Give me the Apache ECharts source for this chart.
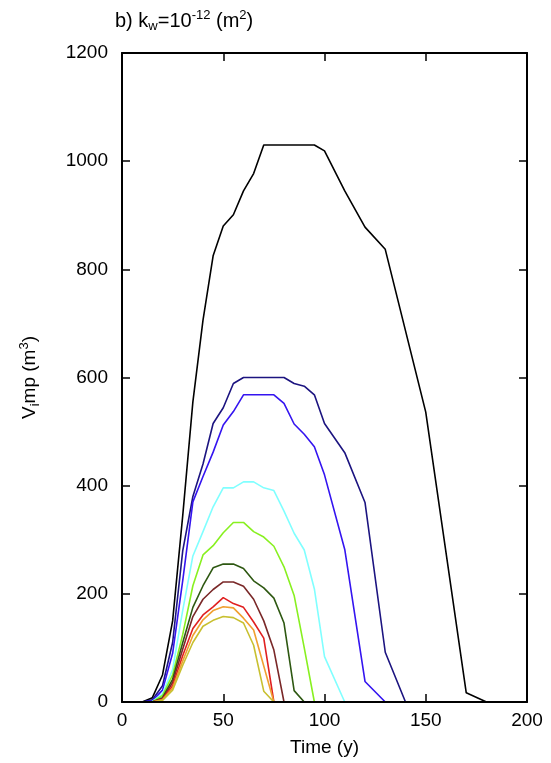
<!DOCTYPE html>
<html>
<head>
<meta charset="utf-8" />
<title>Vimp chart</title>
<script src="https://cdn.jsdelivr.net/npm/echarts@6/dist/echarts.min.js"></script>
<style>
  html, body { margin: 0; padding: 0; background: #fff; }
  #main { width: 551px; height: 763px; }
</style>
</head>
<body>
<div id="main"></div>
<script type="text/javascript">
// time (y) / volume (m3) pairs
var vBlack  = [[0,0],[10,0],[15,8],[20,50],[25,150],[30,345],[35,555],[40,706],[45,825],[50,880],[55,901],[60,945],[65,977],[70,1030],[95,1030],[100,1019],[110,945],[120,878],[130,837],[150,536],[170,17],[180,0],[200,0]];
var vNavy   = [[0,0],[10,0],[15,4],[20,30],[25,110],[30,280],[35,380],[40,440],[45,515],[50,544],[55,589],[60,600],[80,600],[85,589],[90,584],[95,568],[100,515],[110,461],[120,369],[130,92],[140,0],[200,0]];
var vBlue   = [[0,0],[10,0],[15,2],[20,22],[25,90],[30,225],[35,370],[40,417],[45,462],[50,512],[55,537],[60,568],[75,568],[80,552],[85,514],[90,495],[95,472],[100,420],[110,282],[120,38],[130,0],[200,0]];
var vCyan   = [[0,0],[10,0],[15,1],[20,15],[25,60],[30,170],[35,270],[40,315],[45,361],[50,396],[55,396],[60,407],[65,407],[70,396],[75,391],[80,353],[85,312],[90,281],[95,209],[100,84],[110,0],[200,0]];
var vLime   = [[0,0],[15,0],[20,12],[25,50],[30,125],[35,215],[40,272],[45,289],[50,313],[55,332],[60,332],[65,315],[70,305],[75,288],[80,250],[85,197],[90,100],[95,0],[200,0]];
var vDkGrn  = [[0,0],[15,0],[20,8],[25,42],[30,110],[35,175],[40,215],[45,248],[50,255],[55,255],[60,247],[65,224],[70,211],[75,192],[80,146],[85,21],[90,0],[200,0]];
var vBrown  = [[0,0],[15,0],[20,6],[25,36],[30,98],[35,158],[40,190],[45,208],[50,222],[55,222],[60,214],[65,190],[70,150],[75,96],[80,0],[200,0]];
var vRed    = [[0,0],[15,0],[20,5],[25,30],[30,86],[35,136],[40,161],[45,176],[50,193],[55,182],[60,175],[65,148],[70,118],[75,0],[200,0]];
var vOrange = [[0,0],[15,0],[20,4],[25,26],[30,76],[35,123],[40,152],[45,169],[50,176],[55,174],[60,155],[65,133],[75,0],[200,0]];
var vOlive  = [[0,0],[15,0],[20,3],[25,22],[30,68],[35,110],[40,140],[45,151],[50,158],[55,156],[60,146],[65,105],[70,20],[75,0],[200,0]];

var seriesData = [vBlack, vNavy, vBlue, vCyan, vLime, vDkGrn, vBrown, vRed, vOrange, vOlive];
var seriesColors = ['#000000', '#1c1480', '#3414f0', '#80ffff', '#88f020', '#2e5812', '#7a2828', '#e02020', '#f0a030', '#c8c030'];

var font = 'Liberation Sans, Arial, Helvetica, sans-serif';

var myChart = echarts.init(document.getElementById('main'), null, { renderer: 'canvas' });

var series = seriesData.map(function (d, i) {
  return {
    type: 'line',
    data: d,
    symbol: 'none',
    animation: false,
    lineStyle: { color: seriesColors[i], width: 1.6 },
    itemStyle: { color: seriesColors[i] }
  };
});

var tickStyle = { show: true, inside: true, length: 8, lineStyle: { color: '#000', width: 1.5 } };
var lineStyle = { show: true, onZero: false, lineStyle: { color: '#000', width: 2 } };
var subSup = {
  sub: { fontFamily: font, fontSize: 13, padding: [10, 0, 0, 0], color: '#000' },
  sup: { fontFamily: font, fontSize: 13, padding: [0, 0, 11, 0], color: '#000' }
};

option = {
  backgroundColor: '#fff',
  animation: false,
  title: {
    left: 110,
    top: 4,
    text: 'b) k{sub|w}=10{sup|-12} (m{sup|2})',
    textStyle: { fontFamily: font, fontSize: 20, fontWeight: 'normal', color: '#000', rich: subSup }
  },
  grid: { left: 122, right: 24, top: 53, bottom: 61, outerBoundsMode: 'none', containLabel: false },
  xAxis: [
    {
      type: 'value', min: 0, max: 200, interval: 50, z: 5,
      name: 'Time (y)', nameLocation: 'middle', nameGap: 36,
      nameTextStyle: { fontFamily: font, fontSize: 19, color: '#000' },
      axisLine: lineStyle, axisTick: tickStyle,
      axisLabel: { fontFamily: font, fontSize: 19, color: '#000', margin: 9 },
      splitLine: { show: false }
    },
    {
      type: 'value', min: 0, max: 200, interval: 50, position: 'top', z: 5,
      axisLine: lineStyle, axisTick: tickStyle,
      axisLabel: { show: false }, splitLine: { show: false }
    }
  ],
  yAxis: [
    {
      type: 'value', min: 0, max: 1200, interval: 200, z: 5,
      name: 'V{sub|i}mp (m{sup|3})', nameLocation: 'middle', nameGap: 80, nameRotate: 90,
      nameTextStyle: { fontFamily: font, fontSize: 19, color: '#000', rich: subSup },
      axisLine: lineStyle, axisTick: tickStyle,
      axisLabel: {
        fontFamily: font, fontSize: 19, color: '#000', margin: 14,
        formatter: function (v) { return String(v); }
      },
      splitLine: { show: false }
    },
    {
      type: 'value', min: 0, max: 1200, interval: 200, position: 'right', z: 5,
      axisLine: lineStyle, axisTick: tickStyle,
      axisLabel: { show: false }, splitLine: { show: false }
    }
  ],
  series: series
};

myChart.setOption(option);
</script>
</body>
</html>
